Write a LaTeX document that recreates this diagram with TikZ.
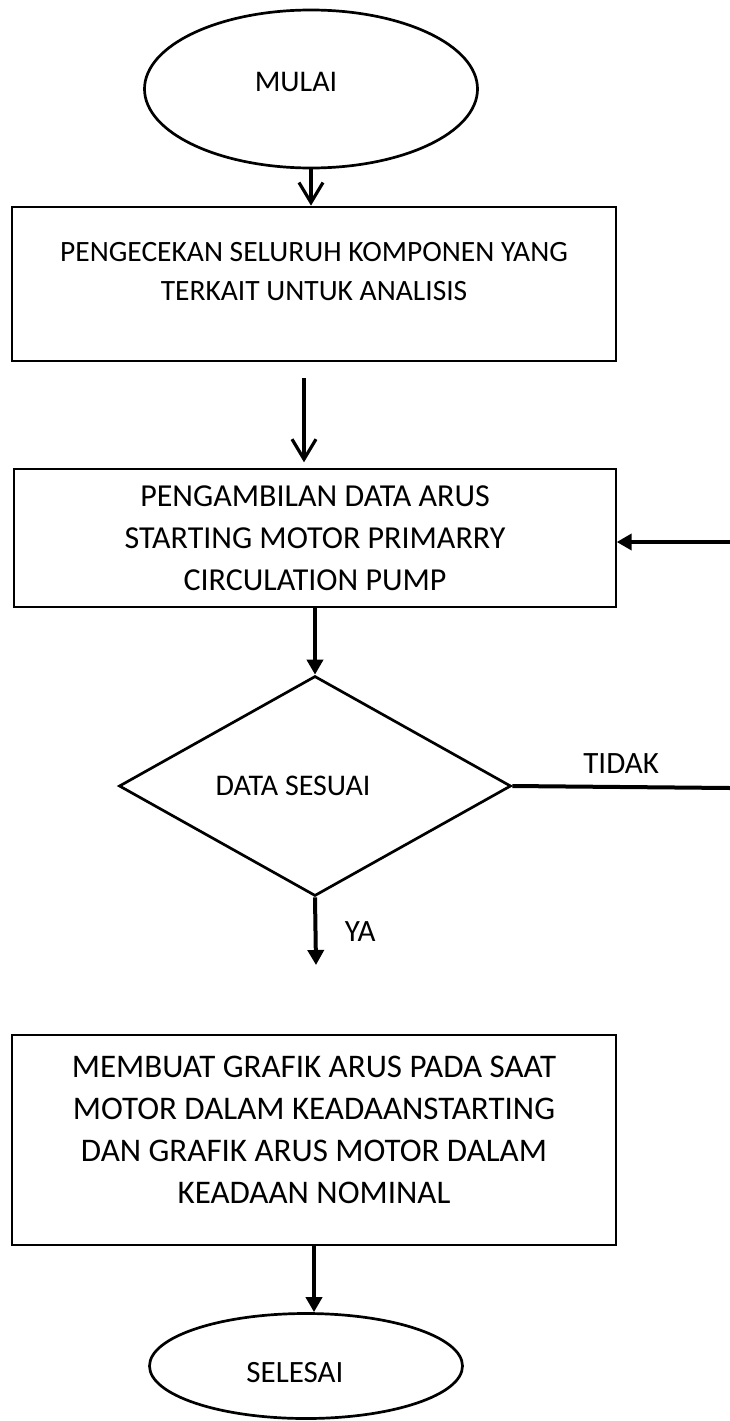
\documentclass[tikz,border=0pt]{standalone}
\usepackage{fontspec}
\setmainfont{Carlito}
\usetikzlibrary{arrows.meta,shapes.geometric}

\begin{document}
\begin{tikzpicture}[x=1pt, y=-1pt,
    term/.style={draw, ellipse, line width=2.7pt, inner sep=0pt},
    proc/.style={draw, rectangle, line width=1.4pt, inner sep=0pt, align=center, font=\fontsize{32}{42}\selectfont},
    dec/.style={draw, diamond, line width=2.7pt, inner sep=0pt},
    openarrow/.style={-{Straight Barb[length=20pt,width=24pt]}, line width=3.2pt},
    fillarrow/.style={-{Triangle[length=15pt,width=16pt]}, line width=4pt},
    lbl/.style={font=\fontsize{31}{36}\selectfont}]
  \useasboundingbox (0,0) rectangle (730,1421);

  % shapes
  \node[term, minimum width=333pt, minimum height=158pt,
        label={[font=\fontsize{30}{36}\selectfont, xshift=-15pt, yshift=7pt]center:MULAI}] (start) at (311,89) {};
  \node[proc, line width=2.7pt, minimum width=604pt, minimum height=154pt,
        label={[align=center, font=\fontsize{29.5}{39}\selectfont, yshift=12pt]center:PENGECEKAN SELURUH KOMPONEN YANG\\TERKAIT UNTUK ANALISIS}] (cek) at (314,284) {};
  \node[proc, minimum width=602pt, minimum height=138pt] (ambil) at (315,538)
        {PENGAMBILAN DATA ARUS\\STARTING MOTOR PRIMARRY\\CIRCULATION PUMP};
  \node[dec, minimum width=392pt, minimum height=220pt,
        label={[font=\fontsize{30}{36}\selectfont, xshift=-22pt]center:DATA SESUAI}] (cocok) at (315,786) {};
  \node[proc, minimum width=604pt, minimum height=210pt,
        label={[align=center, font=\fontsize{33}{42}\selectfont, yshift=10pt]center:MEMBUAT GRAFIK ARUS PADA SAAT\\MOTOR DALAM KEADAANSTARTING\\DAN GRAFIK ARUS MOTOR DALAM\\KEADAAN NOMINAL}] (grafik) at (314,1140) {};
  \node[term, minimum width=313pt, minimum height=105pt,
        label={[font=\fontsize{31}{36}\selectfont, xshift=-11pt, yshift=-7pt]center:SELESAI}] (selesai) at (306,1366) {};

  % free ends
  \coordinate (ya) at (316,965);
  \coordinate (tidak) at (730,788);
  \coordinate (balik) at (730,542);

  % connectors
  \draw[openarrow] (start.south) -- (start.south |- cek.north);
  \draw[openarrow, shorten <=16pt, shorten >=6pt] ([xshift=-10pt]cek.south) -- ([xshift=-10pt]cek.south |- ambil.north);
  \draw[fillarrow] (ambil.south) -- (cocok.north);
  \draw[fillarrow] (cocok.south) -- (ya) node[lbl, pos=0.5, right=24pt] {YA};
  \draw[line width=4pt] (cocok.east) -- (tidak) node[lbl, pos=0.5, above=8pt] {TIDAK};
  \draw[fillarrow] (balik) -- (balik -| ambil.east);
  \draw[fillarrow] (grafik.south) -- (grafik.south |- selesai.north);
\end{tikzpicture}
\end{document}
